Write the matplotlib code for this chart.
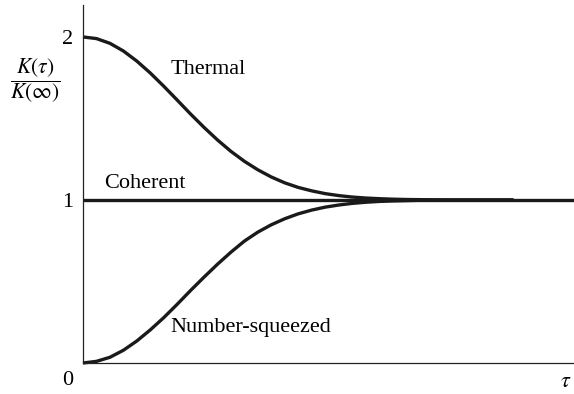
import matplotlib
matplotlib.use("Agg")
import matplotlib.pyplot as plt

plt.rcParams["font.family"] = ["Liberation Serif", "DejaVu Serif"]
plt.rcParams["mathtext.fontset"] = "stix"

# Normalised correlation K(tau)/K(inf) versus delay tau
tau = [0.0, 0.1, 0.2, 0.3, 0.4, 0.5, 0.6, 0.7, 0.8, 0.9,
       1.0, 1.1, 1.2, 1.3, 1.4, 1.5, 1.6, 1.7, 1.8, 1.9,
       2.0, 2.1, 2.2, 2.3, 2.4, 2.5, 2.6, 2.8, 3.0, 3.2]
thermal = [2.000, 1.990, 1.961, 1.914, 1.852, 1.779, 1.698, 1.613, 1.527, 1.445,
           1.368, 1.298, 1.237, 1.185, 1.141, 1.105, 1.077, 1.056, 1.039, 1.027,
           1.018, 1.012, 1.008, 1.005, 1.003, 1.002, 1.001, 1.000, 1.000, 1.000]
squeezed = [0.000, 0.010, 0.035, 0.078, 0.135, 0.203, 0.278, 0.360, 0.445, 0.527,
            0.606, 0.680, 0.748, 0.803, 0.848, 0.885, 0.915, 0.938, 0.956, 0.969,
            0.979, 0.986, 0.991, 0.994, 0.996, 0.998, 0.999, 1.000, 1.000, 1.000]
coherent_tau = [0.0, 3.65]
coherent = [1.0, 1.0]

fig = plt.figure(figsize=(5.74, 3.94), dpi=100)
ax = fig.add_axes([83 / 574, 31 / 394, 491 / 574, 358 / 394])

ink = "#1a1a1a"
style = dict(color=ink, lw=2.4, solid_capstyle="butt", solid_joinstyle="round",
             clip_on=False)
ax.plot(coherent_tau, coherent, **style)
ax.plot(tau, thermal, **style)
ax.plot(tau, squeezed, **style)

ax.set_xlim(0, 3.65)
ax.set_ylim(0, 2.196)
for side in ("top", "right"):
    ax.spines[side].set_visible(False)
for side in ("left", "bottom"):
    ax.spines[side].set_linewidth(0.9)
    ax.spines[side].set_color("#222222")

ax.set_xticks([])
ax.set_yticks([1, 2])
ax.set_yticklabels(["1", "2"], fontsize=16)
ax.tick_params(axis="y", length=0, pad=7)

fs = 16
ax.text(-0.115, -0.11, "0", fontsize=16, ha="center", va="center")
ax.text(3.59, -0.12, r"$\tau$", fontsize=16, ha="center", va="center")
ax.text(0.93, 1.80, "Thermal", fontsize=fs, ha="center", va="center")
ax.text(0.46, 1.10, "Coherent", fontsize=fs, ha="center", va="center")
ax.text(1.245, 0.22, "Number-squeezed", fontsize=fs, ha="center", va="center")

fig.text(35 / 574, 1 - 81 / 394, r"$\dfrac{K(\tau)}{K(\infty)}$", fontsize=15.5,
         ha="center", va="center")

fig.savefig("out.png", dpi=100)
